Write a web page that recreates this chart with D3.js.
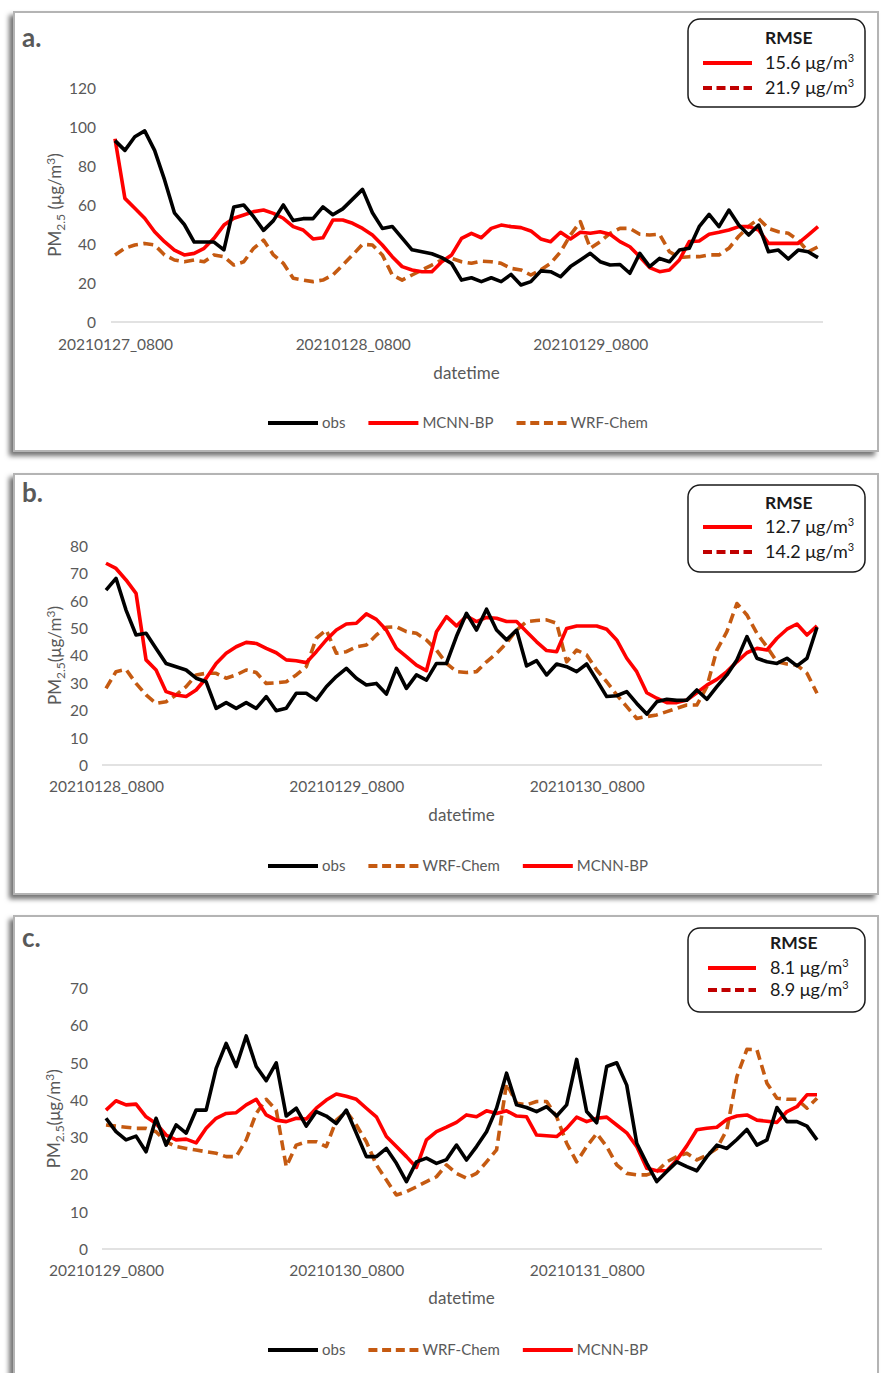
<!DOCTYPE html>
<html>
<head>
<meta charset="utf-8">
<script src="https://cdn.jsdelivr.net/npm/d3@7/dist/d3.min.js"></script>
<style>
  body { margin: 0; background: #fff; }
  svg { display: block; }
  text { font-family: Lato, "Open Sans", "Liberation Sans", sans-serif; }
</style>
</head>
<body>
<svg id="chart" width="883" height="1373"></svg>
<script>
// ---- Hourly PM2.5 series, 72 hours per window (µg/m³) ----
const obsA  = [93,88,95,98,88,73,56,50,41,41, 41,37,59,60,54,47,52,60,52,53, 53,59,55,58,63,68,56,48,49,43, 37,36,35,33,30,21.5,22.7,20.7,22.7,20.7, 24.4,19,20.7,26.2,25.8,23.2,28.4,31.8,35.2,30.9, 29.2,29.5,25,35.2,28.4,32.6,30.9,36.9,37.8,48.9, 55.2,48.9,57.4,49.7,44.6,49.7,36,36.9,32.3,36.9, 36,33];
const mcnnA = [94,63.4,58.3,53.2,46.3,41.2,36.9,34.4,35.2,37.8, 42.9,49.7,53.2,54.9,56.6,57.4,55.7,53.2,48.9,47.2, 42.6,43.2,52.3,52.3,50.6,48,44.6,39.5,33.5,28.4, 26.7,25.8,25.8,30.9,34.4,42.9,45.5,43.2,48,49.7, 48.9,48.4,46.7,42.6,41.2,46,42.6,46,45.5,46.3, 45,41.2,38.6,33.5,27.9,25.8,26.7,31.8,41.2,41.5, 45,46,47.2,48.9,48.9,47.2,40.3,40.3,40.3,40.3, 44.6,48.9];
const wrfA  = [34.4,37.8,39.5,40.3,39.5,34.4,31.8,30.9,31.8,30.9, 34.4,33.5,29.2,30.9,37.8,42,34.4,30.1,22.4,21.5, 20.7,21.5,24.1,29.2,34.4,39.8,39.5,34.4,24.1,21.5, 24.1,26.7,29.2,31.8,32.6,30.9,30.1,31.2,30.9,30.1, 27.5,26.7,24.1,26.7,30.1,36,44.6,51.5,37.8,41.2, 45.5,48,48,45,44.6,45,36,33,33.5,33.5, 34.4,34.4,37.8,44,49,53,48,46.3,45.5,42, 36,38.6];

const obsB  = [63.9,68.2,56.6,47.5,48.1,42.6,37.1,35.9,34.7,31.7, 30.4,20.7,22.8,20.7,22.8,20.7,25,19.8,20.7,26.2, 26.2,23.7,28.6,32.3,35.3,31.7,29.2,29.8,25.9,35.3, 28,32.9,31,37.1,37.1,47,55.4,49.3,56.9,49.3, 45.7,49.3,36.2,38.1,32.9,36.9,35.9,34.1,36.9,31, 25,25.3,26.8,22.5,18.6,23.1,24,23.6,23.7,27.4, 24,28.6,32.9,38.4,46.9,39,37.7,37.1,39,36.2, 39,50.3];
const mcnnB = [73.7,71.8,67.6,62.7,38.4,34.7,26.8,25.6,25,27.4, 31.7,37.1,40.8,43.2,44.8,44.4,42.6,41,38.4,38.1, 37.4,41.4,45.7,49.3,51.5,51.8,55.2,53.2,49.3,42.6, 39.6,36.5,34.5,48.7,54.2,50.8,54.4,52.4,53.9,53.6, 52.4,52.4,48.7,45,41.8,41.4,49.9,50.8,50.8,50.8, 49.6,45.7,39,34.1,26.4,24.4,22.8,22.8,23.7,26.4, 29.2,31.3,34.1,37.7,41,42.6,42,46.3,49.6,51.5, 47.5,50.8];
const wrfB  = [28,34.1,34.9,29.8,25.6,22.5,23.1,25.6,28.6,32.9, 33.5,33.5,31.7,32.9,34.7,33.8,29.8,30,30.4,32.9, 35.9,46.3,49.3,40.8,41.4,43.2,43.8,47.5,50.3,50.5, 48.7,48.1,45.7,42,37.1,34.1,33.8,34.1,37.7,40.8, 44.5,49.3,52.4,52.8,53,51.8,37.7,42,40.2,34.7, 30.4,25.6,21.3,17,17.7,18.3,19.5,20.7,21.9,21.9, 28.6,42,48.7,59,54.8,48.1,43.2,37.7,36.9,36.5, 33.5,26.2];

const obsC  = [35.1,31.5,29.3,30.3,26.1,35.1,27.9,33.3,31.1,37.3, 37.3,48.5,55.2,49,57.2,49,45.2,50,35.7,37.8, 33,36.9,35.7,33.7,37.3,31.1,24.8,24.8,27,23, 18.1,23.4,24.4,23,24,27.9,23.9,27.5,31.5,37.8, 47.2,38.7,38,36.9,38.2,35.7,38.7,50.9,36.9,33.9, 49,50,44,28.4,23,18.1,20.8,23.4,22.1,21, 24.8,27.9,27,29.4,32.1,27.9,29.3,38,34.2,34.2, 33,29.3];
const mcnnC = [37.3,39.8,38.7,38.9,35.5,33.7,30.6,29.3,29.5,28.5, 32.4,35.1,36.4,36.6,38.7,40.2,36,34.6,34.2,35.1, 34.9,37.8,40,41.6,41,40.2,37.8,35.5,30.2,27.5, 24.8,21.9,29.3,31.5,32.7,34,36,35.5,37.1,36.4, 37.1,35.7,35.5,30.6,30.4,30.2,32.4,35.4,34.2,35.1, 35.4,33.3,31.2,27.5,21.7,21,21,23.9,27.7,32, 32.4,32.7,34.8,35.7,36,34.6,34.3,34,36.9,38.2, 41.4,41.4];
const wrfC  = [33.3,33,32.7,32.4,32.4,31.5,28.8,27.5,27,26.6, 26.1,25.7,24.8,24.8,29.3,36.4,40.2,37.3,22.1,27.9, 28.8,28.8,27.5,34.6,36.9,33.3,28.8,22.6,18.5,14.5, 15.4,16.7,18.1,19.4,22.6,20.3,19,20.3,23.4,26.6, 44.5,39.1,38.7,39.6,39.6,35.5,28.4,23.4,27.5,31, 27.5,22.6,20.3,19.9,19.9,20.8,23.4,24.8,25.7,23.9, 25.2,27,32,46.3,53.6,53.5,44.5,40.5,40.2,40.2, 37.8,40.5];

// ---- Category labels (one every 24 hours) ----
const tickHours  = [0, 24, 48];
const dayLabelsA = ["20210127_0800", "20210128_0800", "20210129_0800"];
const dayLabelsB = ["20210128_0800", "20210129_0800", "20210130_0800"];
const dayLabelsC = ["20210129_0800", "20210130_0800", "20210131_0800"];

// ---- y ticks ----
const yTicksA = [0, 20, 40, 60, 80, 100, 120];
const yTicksB = [0, 10, 20, 30, 40, 50, 60, 70, 80];
const yTicksC = [0, 10, 20, 30, 40, 50, 60, 70];

// ---- RMSE (MCNN-BP, WRF-Chem) ----
const rmseA = ["15.6", "21.9"];
const rmseB = ["12.7", "14.2"];
const rmseC = ["8.1", "8.9"];

// ---- legend order per panel ----
const legendOrderA = ["obs", "MCNN-BP", "WRF-Chem"];
const legendOrderBC = ["obs", "WRF-Chem", "MCNN-BP"];

const panelLetters = ["a.", "b.", "c."];

// ---- styling ----
const seriesStyle = {
  "obs":      { color: "#000000", dash: null },
  "MCNN-BP":  { color: "#ff0000", dash: null },
  "WRF-Chem": { color: "#c55a11", dash: "10,5.5" }
};
const textGray = "#595959";

// ---- layout of each panel ----
const panels = [
  { letter: panelLetters[0], obs: obsA, mcnn: mcnnA, wrf: wrfA, labels: dayLabelsA, yTicks: yTicksA, yMax: 120,
    rmse: rmseA, legend: legendOrderA, yTitleSpace: true,
    frame: { x: 14, y: 12, w: 864, h: 439 }, letterPos: [22, 47],
    xr: [115, 818], yr: [322, 88], yTickX: 96, xLabDy: 23, titleDy: 51, legendY: 423, yTitleX: 55,
    box: { x: 688, y: 19, w: 177, h: 88, titleY: 38, lineY: [63, 88], lineX: [703, 752], textX: 765 } },
  { letter: panelLetters[1], obs: obsB, mcnn: mcnnB, wrf: wrfB, labels: dayLabelsB, yTicks: yTicksB, yMax: 80,
    rmse: rmseB, legend: legendOrderBC, yTitleSpace: false,
    frame: { x: 14, y: 474, w: 864, h: 420 }, letterPos: [22, 502],
    xr: [106, 817], yr: [765, 546], yTickX: 88, xLabDy: 22, titleDy: 50, legendY: 866, yTitleX: 55,
    box: { x: 688, y: 485, w: 177, h: 87, titleY: 503, lineY: [527, 552], lineX: [703, 752], textX: 765 } },
  { letter: panelLetters[2], obs: obsC, mcnn: mcnnC, wrf: wrfC, labels: dayLabelsC, yTicks: yTicksC, yMax: 70,
    rmse: rmseC, legend: legendOrderBC, yTitleSpace: false,
    frame: { x: 14, y: 916, w: 864, h: 480 }, letterPos: [22, 947],
    xr: [106, 817], yr: [1249, 988.3], yTickX: 88, xLabDy: 22, titleDy: 49, legendY: 1350, yTitleX: 54,
    box: { x: 688, y: 928, w: 177, h: 84, titleY: 943, lineY: [968, 990], lineX: [708, 756], textX: 770 } }
];

const svg = d3.select("#chart");

const defs = svg.append("defs");
const f = defs.append("filter").attr("id", "frameShadow")
  .attr("x", "-5%").attr("y", "-5%").attr("width", "110%").attr("height", "110%");
f.append("feDropShadow").attr("dx", -4).attr("dy", 4).attr("stdDeviation", 2.5)
  .attr("flood-color", "#000").attr("flood-opacity", 0.55);

function drawPanel(p) {
  const g = svg.append("g");

  // frame
  g.append("rect")
    .attr("x", p.frame.x).attr("y", p.frame.y)
    .attr("width", p.frame.w).attr("height", p.frame.h)
    .attr("fill", "#fff").attr("stroke", "#b4b4b4").attr("stroke-width", 2)
    .attr("filter", "url(#frameShadow)");

  // panel letter
  g.append("text").attr("x", p.letterPos[0]).attr("y", p.letterPos[1])
    .attr("font-size", 26).attr("font-weight", 700).attr("fill", textGray)
    .text(p.letter);

  const n = p.obs.length;
  const x = d3.scaleLinear().domain([0, n - 1]).range(p.xr);
  const y = d3.scaleLinear().domain([0, p.yMax]).range(p.yr);

  // baseline
  g.append("line")
    .attr("x1", x(0) - 4).attr("x2", x(n - 1) + 5)
    .attr("y1", y(0)).attr("y2", y(0))
    .attr("stroke", "#d9d9d9").attr("stroke-width", 1.5);

  // y axis labels
  const yAxis = d3.axisLeft(y).tickValues(p.yTicks).tickSize(0).tickPadding(0);
  const ya = g.append("g").attr("transform", `translate(${p.yTickX},0)`).call(yAxis);
  ya.select(".domain").remove();
  ya.selectAll("text").attr("font-size", 15.5).attr("fill", textGray)
    .attr("font-family", "Lato, 'Open Sans', sans-serif").attr("dy", "0.35em");

  // x axis labels
  const xAxis = d3.axisBottom(x).tickValues(tickHours).tickSize(0).tickPadding(0)
    .tickFormat((d, i) => p.labels[i]);
  const xa = g.append("g").attr("transform", `translate(0,${y(0)})`).call(xAxis);
  xa.select(".domain").remove();
  xa.selectAll("text").attr("font-size", 15.5).attr("fill", textGray)
    .attr("font-family", "Lato, 'Open Sans', sans-serif")
    .attr("y", p.xLabDy).attr("dy", "0.35em");

  // axis titles
  g.append("text").attr("x", (p.xr[0] + p.xr[1]) / 2).attr("y", y(0) + p.titleDy)
    .attr("text-anchor", "middle").attr("dy", "0.35em")
    .attr("font-size", 17).attr("fill", textGray).text("datetime");

  const yt = g.append("text")
    .attr("transform", `translate(${p.yTitleX},${(p.yr[0] + p.yr[1]) / 2}) rotate(-90)`)
    .attr("text-anchor", "middle").attr("dy", "0.35em")
    .attr("font-size", 17).attr("fill", textGray);
  yt.append("tspan").text("PM");
  yt.append("tspan").attr("font-size", 12).attr("dy", 4).text("2.5");
  yt.append("tspan").attr("dy", -4).text((p.yTitleSpace ? " " : "") + "(μg/m");
  yt.append("tspan").attr("font-size", 12).attr("dy", -6).text("3");
  yt.append("tspan").attr("dy", 6).text(")");

  // series
  const line = d3.line().x((d, i) => x(i)).y(d => y(d));
  const series = { "obs": p.obs, "MCNN-BP": p.mcnn, "WRF-Chem": p.wrf };
  ["WRF-Chem", "MCNN-BP", "obs"].forEach(k => {
    g.append("path").datum(series[k])
      .attr("d", line)
      .attr("fill", "none")
      .attr("stroke", seriesStyle[k].color)
      .attr("stroke-width", 3.6)
      .attr("stroke-linejoin", "round")
      .attr("stroke-dasharray", seriesStyle[k].dash);
  });

  // bottom legend
  let lx = 268;
  p.legend.forEach(k => {
    g.append("line").attr("x1", lx).attr("x2", lx + 50)
      .attr("y1", p.legendY).attr("y2", p.legendY)
      .attr("stroke", seriesStyle[k].color).attr("stroke-width", 4)
      .attr("stroke-dasharray", k === "WRF-Chem" ? "9,4.7" : null);
    const t = g.append("text").attr("x", lx + 54).attr("y", p.legendY).attr("dy", "0.35em")
      .attr("font-size", 15).attr("fill", textGray).text(k);
    lx += 54 + t.node().getComputedTextLength() + 23;
  });

  // RMSE box
  const b = p.box;
  g.append("rect").attr("x", b.x).attr("y", b.y).attr("width", b.w).attr("height", b.h)
    .attr("rx", 12).attr("ry", 12)
    .attr("fill", "#fff").attr("stroke", "#1a1a1a").attr("stroke-width", 1.5);
  g.append("text").attr("x", b.textX).attr("y", b.titleY).attr("dy", "0.35em")
    .attr("font-size", 17.5).attr("font-weight", 700).attr("fill", "#1a1a1a").text("RMSE");
  const boxStyles = [{ color: "#ff0000", dash: null }, { color: "#c00000", dash: "9,4.5" }];
  p.rmse.forEach((v, i) => {
    g.append("line").attr("x1", b.lineX[0]).attr("x2", b.lineX[1])
      .attr("y1", b.lineY[i]).attr("y2", b.lineY[i])
      .attr("stroke", boxStyles[i].color).attr("stroke-width", 4)
      .attr("stroke-dasharray", boxStyles[i].dash);
    const t = g.append("text").attr("x", b.textX).attr("y", b.lineY[i]).attr("dy", "0.35em")
      .attr("font-size", 18).attr("fill", "#1a1a1a");
    t.append("tspan").text(v + " μg/m");
    t.append("tspan").attr("font-size", 11).attr("dy", -7).text("3");
  });
}

panels.forEach(drawPanel);
</script>
</body>
</html>
